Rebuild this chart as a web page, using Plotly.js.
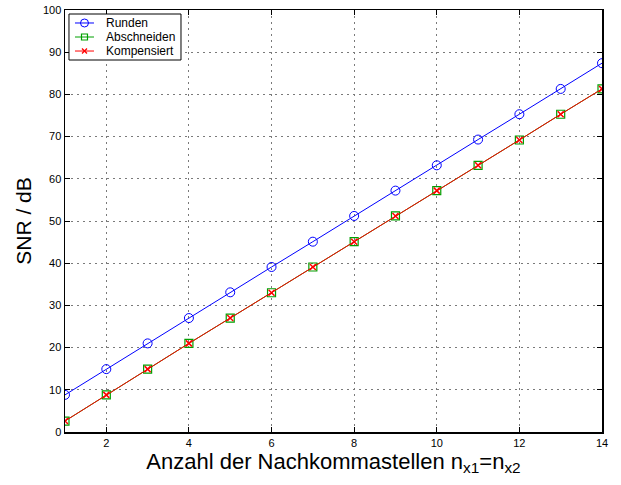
<!DOCTYPE html>
<html><head><meta charset="utf-8">
<script src="https://cdn.plot.ly/plotly-3.0.1.min.js"></script>
<style>body{margin:0;background:#fff}#c{width:621px;height:485px}</style>
</head><body><div id="c"></div>
<script>
const n = [1,2,3,4,5,6,7,8,9,10,11,12,13,14];
const runden = [8.8,14.9,21.0,27.0,33.1,39.1,45.1,51.2,57.2,63.2,69.3,75.3,81.3,87.4];
const abschneiden = [2.6,8.8,14.9,21.0,27.0,33.0,39.1,45.1,51.2,57.2,63.2,69.2,75.3,81.3];
const kompensiert = [2.6,8.8,14.9,21.0,27.0,33.0,39.1,45.1,51.2,57.2,63.2,69.2,75.3,81.3];
const seriesNames = ['Runden','Abschneiden','Kompensiert'];
const seriesColors = ['#0000ff','#00a000','#ff0000'];
const xTicks = [2,4,6,8,10,12,14];
const yTicks = [0,10,20,30,40,50,60,70,80,90,100];

const traces = [
 {x:n,y:runden,name:seriesNames[0],mode:'lines+markers',line:{color:seriesColors[0],width:1},
  marker:{symbol:'circle-open',size:9,color:seriesColors[0],line:{width:1}}},
 {x:n,y:abschneiden,name:seriesNames[1],mode:'lines+markers',line:{color:seriesColors[1],width:1},
  marker:{symbol:'square-open',size:8,color:seriesColors[1],line:{width:1.2}}},
 {x:n,y:kompensiert,name:seriesNames[2],mode:'lines+markers',line:{color:seriesColors[2],width:1},
  marker:{symbol:'x-thin-open',size:6,color:seriesColors[2],line:{width:1.5,color:seriesColors[2]}}}
];
const ax = {showline:true,linecolor:'#000',linewidth:1.5,mirror:'ticks',ticks:'inside',ticklen:5,
  tickcolor:'#000',showgrid:true,gridcolor:'#7a7a7a',griddash:'2px,4px',gridwidth:1,zeroline:false,
  tickfont:{family:'Liberation Sans, Arial, sans-serif',size:11,color:'#000'}};

// custom MATLAB-style legend (paper coordinates)
const legX0 = 0.0074, legX1 = 0.216, legY0 = 0.8815, legY1 = 0.9905;
const rowY = [0.9692, 0.9360, 0.9028];
const lnX0 = 0.0186, lnX1 = 0.054, mkX = 0.0363, txtX = 0.0726;
const shapes = [{type:'rect',xref:'paper',yref:'paper',x0:legX0,x1:legX1,y0:legY0,y1:legY1,
  fillcolor:'#fff',line:{color:'#000',width:1},layer:'above'}];
const annotations = [];
rowY.forEach((y,i)=>{
  shapes.push({type:'line',xref:'paper',yref:'paper',x0:lnX0,x1:lnX1,y0:y,y1:y,
    line:{color:seriesColors[i],width:1},layer:'above'});
  const base = {xref:'paper',yref:'paper',xsizemode:'pixel',ysizemode:'pixel',xanchor:mkX,yanchor:y,layer:'above'};
  if(i===0) shapes.push(Object.assign({type:'circle',x0:-4,x1:4,y0:-4,y1:4,line:{color:seriesColors[i],width:1}},base));
  if(i===1) shapes.push(Object.assign({type:'rect',x0:-3,x1:3,y0:-3,y1:3,line:{color:seriesColors[i],width:1.2}},base));
  if(i===2){
    shapes.push(Object.assign({type:'line',x0:-2.5,x1:2.5,y0:-2.5,y1:2.5,line:{color:seriesColors[i],width:1.3}},base));
    shapes.push(Object.assign({type:'line',x0:-2.5,x1:2.5,y0:2.5,y1:-2.5,line:{color:seriesColors[i],width:1.3}},base));
  }
  annotations.push({xref:'paper',yref:'paper',x:txtX,y:y,xanchor:'left',yanchor:'middle',showarrow:false,
    text:seriesNames[i],font:{size:12,color:'#000'}});
});

const layout = {
 width:621,height:485,margin:{l:65,r:19,t:10,b:53},
 paper_bgcolor:'#fff',plot_bgcolor:'#fff',
 font:{family:'Liberation Sans, Arial, sans-serif',color:'#000'},
 xaxis:Object.assign({},ax,{range:[1,14],tickvals:xTicks,
   title:{text:'Anzahl der Nachkommastellen n<sub>x1</sub>=n<sub>x2</sub>',font:{size:22},standoff:4}}),
 yaxis:Object.assign({},ax,{range:[0,100],tickvals:yTicks,
   title:{text:'SNR / dB',font:{size:21},standoff:5}}),
 showlegend:false,
 shapes:shapes, annotations:annotations
};
Plotly.newPlot('c',traces,layout,{displayModeBar:false,staticPlot:true});
</script></body></html>
